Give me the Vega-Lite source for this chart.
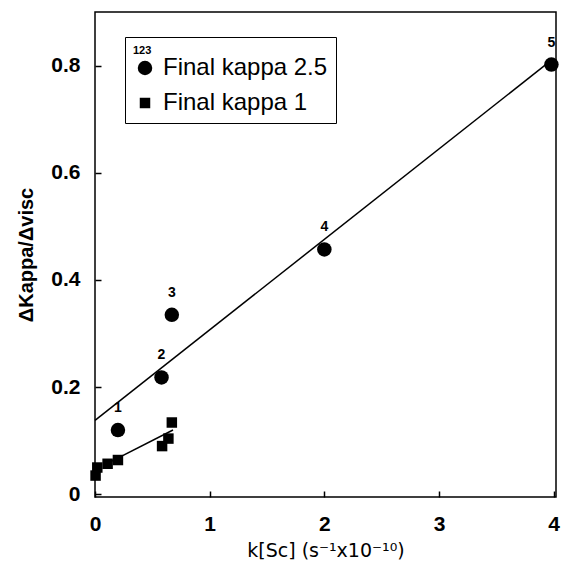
{
  "$schema": "https://vega.github.io/schema/vega-lite/v6.json",
  "autosize": {"type": "none"},
  "width": 461,
  "height": 485,
  "padding": {"left": 95, "top": 12, "right": 10, "bottom": 81},
  "background": "white",
  "config": {
    "font": "Liberation Sans",
    "view": {"stroke": "black", "strokeWidth": 1.5},
    "axis": {"grid": false, "domain": false, "ticks": true, "tickOpacity": 1, "offset": -6, "tickSize": 6, "zindex": 1, "tickColor": "#000000", "labelColor": "black", "titleColor": "black", "tickWidth": 1.5}
  },
  "datasets": {
    "pts": [
      {"x": 0.2, "y": 0.12, "series": "Final kappa 2.5", "lab": "1"},
      {"x": 0.58, "y": 0.218, "series": "Final kappa 2.5", "lab": "2"},
      {"x": 0.67, "y": 0.335, "series": "Final kappa 2.5", "lab": "3"},
      {"x": 2.0, "y": 0.457, "series": "Final kappa 2.5", "lab": "4"},
      {"x": 3.98, "y": 0.802, "series": "Final kappa 2.5", "lab": "5"},
      {"x": 0.005, "y": 0.035, "series": "Final kappa 1", "lab": ""},
      {"x": 0.02, "y": 0.05, "series": "Final kappa 1", "lab": ""},
      {"x": 0.11, "y": 0.057, "series": "Final kappa 1", "lab": ""},
      {"x": 0.2, "y": 0.064, "series": "Final kappa 1", "lab": ""},
      {"x": 0.585, "y": 0.09, "series": "Final kappa 1", "lab": ""},
      {"x": 0.64, "y": 0.104, "series": "Final kappa 1", "lab": ""},
      {"x": 0.67, "y": 0.134, "series": "Final kappa 1", "lab": ""}
    ],
    "fits": [
      {"x": 0.0, "y": 0.138, "series": "Final kappa 2.5"},
      {"x": 3.95, "y": 0.805, "series": "Final kappa 2.5"},
      {"x": 0.13, "y": 0.06, "series": "Final kappa 1"},
      {"x": 0.68, "y": 0.12, "series": "Final kappa 1"}
    ]
  },
  "layer": [
    {
      "data": {"name": "fits"},
      "mark": {"type": "line", "color": "black", "strokeWidth": 1.5},
      "encoding": {
        "x": {"field": "x", "type": "quantitative", "scale": {"domain": [0, 4.02], "nice": false, "zero": false}},
        "y": {"field": "y", "type": "quantitative", "scale": {"domain": [-0.005, 0.9], "nice": false, "zero": false}},
        "detail": {"field": "series"}
      }
    },
    {
      "data": {"name": "pts"},
      "mark": {"type": "point", "filled": true, "opacity": 1, "color": "black"},
      "encoding": {
        "x": {"field": "x", "type": "quantitative", "scale": {"domain": [0, 4.02], "nice": false, "zero": false},
          "axis": {"values": [0, 1, 2, 3, 4], "format": "d", "labelPadding": 16, "labelFontSize": 21, "labelFontWeight": "bold", "title": "k[Sc] (s⁻¹x10⁻¹⁰)", "titleFont": "DejaVu Sans", "titleFontSize": 19, "titleFontWeight": "normal", "titlePadding": 7, "labelFlush": false}},
        "y": {"field": "y", "type": "quantitative", "scale": {"domain": [-0.005, 0.9], "nice": false, "zero": false},
          "axis": {"values": [0, 0.2, 0.4, 0.6, 0.8], "labelPadding": 15, "labelFontSize": 21, "labelFontWeight": "bold", "title": "ΔKappa/Δvisc", "titleFontSize": 20, "titleFontWeight": "bold", "titlePadding": 14, "labelFlush": false, "format": "~g"}},
        "shape": {"field": "series", "type": "nominal", "scale": {"domain": ["Final kappa 2.5", "Final kappa 1"], "range": ["circle", "square"]},
          "legend": {"orient": "none", "legendX": 30, "legendY": 25, "title": "123", "titleFontSize": 11, "titleFontWeight": "bold", "titlePadding": 0, "labelFontSize": 24, "labelLimit": 400, "labelColor": "black", "titleColor": "black", "strokeColor": "black", "padding": 8, "rowPadding": 11, "symbolFillColor": "black", "symbolStrokeColor": "black", "labelOffset": 6}},
        "size": {"field": "series", "type": "nominal", "scale": {"domain": ["Final kappa 2.5", "Final kappa 1"], "range": [210, 110]}}
      }
    },
    {
      "data": {"name": "pts"},
      "mark": {"type": "text", "dy": -22, "fontSize": 14, "fontWeight": "bold", "color": "black"},
      "encoding": {
        "x": {"field": "x", "type": "quantitative", "scale": {"domain": [0, 4.02], "nice": false, "zero": false}},
        "y": {"field": "y", "type": "quantitative", "scale": {"domain": [-0.005, 0.9], "nice": false, "zero": false}},
        "text": {"field": "lab"}
      }
    }
  ]
}
